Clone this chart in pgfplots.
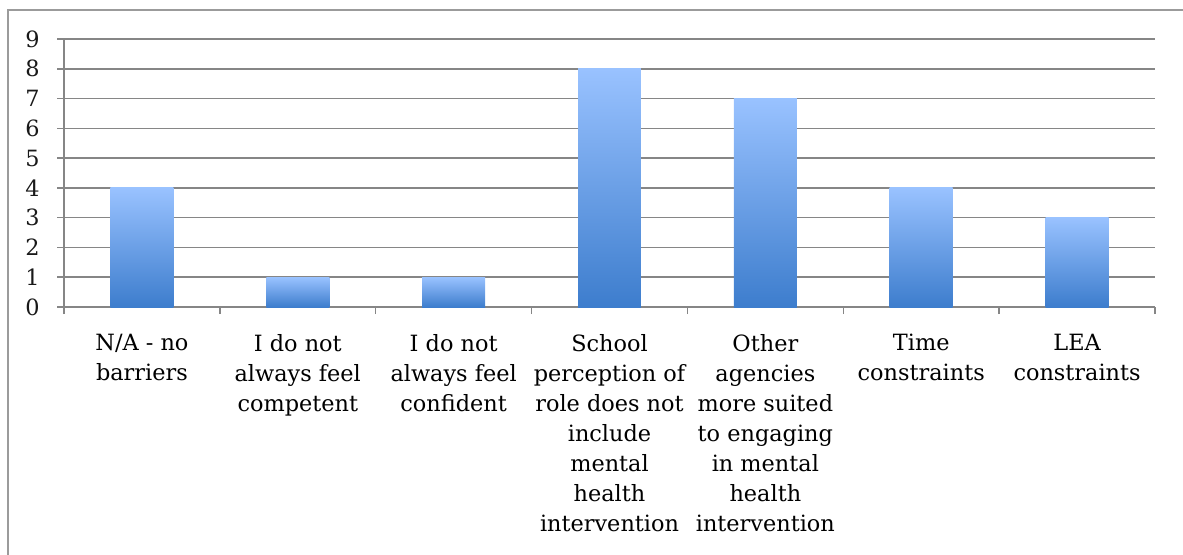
\documentclass[border=0pt]{standalone}
\usepackage{fontspec}
\setmainfont{DejaVu Serif}
\usepackage{pgfplots}
\pgfplotsset{compat=1.18}

\definecolor{gridgray}{RGB}{134,134,134}
\definecolor{framegray}{RGB}{155,155,155}
\definecolor{bartop}{RGB}{153,194,255}
\definecolor{barbot}{RGB}{61,125,205}

% one bar per plot, so that each bar gets its own top-to-bottom gradient
\pgfplotsset{gradbar/.style={draw=none, top color=bartop, bottom color=barbot, bar shift=0pt}}

\begin{document}
\begin{tikzpicture}[font=\fontsize{11.2pt}{15pt}\selectfont]
% outer chart frame
\draw[framegray, line width=1pt] (4pt,-5pt) rectangle (640pt,-330pt);
\begin{axis}[
  at={(32pt,-153.5pt)}, anchor=south west,
  scale only axis, width=545.5pt, height=134pt,
  xmin=-0.5, xmax=6.5, ymin=0, ymax=9,
  ybar, bar width=0.404,
  axis x line*=bottom, axis y line*=left,
  axis line style={gridgray, line width=0.75pt, -},
  ymajorgrids, grid style={gridgray, line width=0.75pt},
  tick align=outside, major tick length=3.5pt,
  tick style={gridgray, line width=0.75pt},
  ytick={0,...,9},
  /pgf/number format/assume math mode=true,
  yticklabel style={anchor=east, inner sep=0pt, xshift=-8.5pt, text=black!90},
  xtick={-0.5,0.5,...,6.5}, xticklabels={},
  extra x ticks={0,1,2,3,4,5,6},
  extra x tick style={major tick length=0pt},
  extra x tick labels={
    N/A - no\\barriers,
    I do not\\always feel\\competent,
    I do not\\always feel\\confident,
    School\\perception of\\role does not\\include\\mental\\health\\intervention,
    Other\\agencies\\more suited\\to engaging\\in mental\\health\\intervention,
    Time\\constraints,
    LEA\\constraints},
  xticklabel style={align=center, anchor=north, inner sep=0pt, yshift=-13.5pt},
]
\addplot[gradbar] coordinates {(0,4)};
\addplot[gradbar] coordinates {(1,1)};
\addplot[gradbar] coordinates {(2,1)};
\addplot[gradbar] coordinates {(3,8)};
\addplot[gradbar] coordinates {(4,7)};
\addplot[gradbar] coordinates {(5,4)};
\addplot[gradbar] coordinates {(6,3)};
\end{axis}
\pgfresetboundingbox
\useasboundingbox (0,0) rectangle (591.5pt,-277.5pt);
\end{tikzpicture}
\end{document}
